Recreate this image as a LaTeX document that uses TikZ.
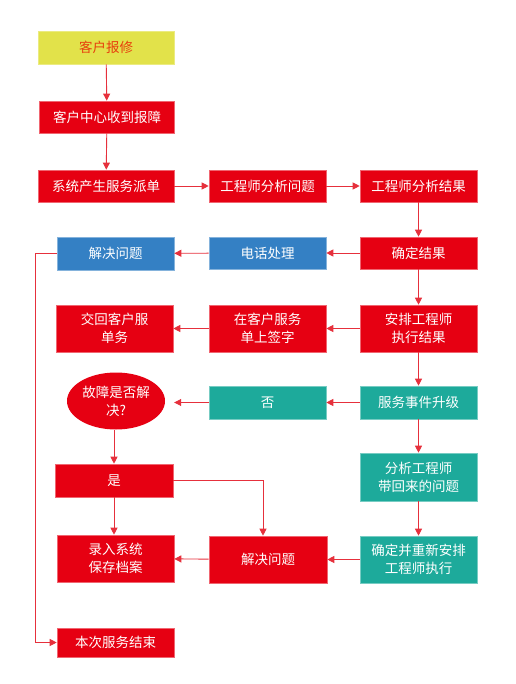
\documentclass[tikz,border=0pt]{standalone}
\usepackage{fontspec}
\newfontfamily\cjk{Noto Sans CJK SC}
\usetikzlibrary{arrows.meta,shapes.geometric}
\definecolor{boxred}{HTML}{E60012}
\definecolor{linered}{HTML}{E6303C}
\definecolor{teal2}{HTML}{1DAA9B}
\definecolor{blue2}{HTML}{3480C4}
\definecolor{yel}{HTML}{E2E24A}
\definecolor{yeltext}{HTML}{E8400D}
\tikzset{
  base/.style={minimum width=117pt, minimum height=32pt, inner sep=1pt, align=center,
     text=white, font=\cjk\fontsize{13.5}{18}\selectfont, line width=0.6pt},
  rbox/.style={base, fill=boxred, draw=boxred!60!white},
  tbox/.style={base, fill=teal2, draw=teal2!60!white},
  bbox/.style={base, fill=blue2, draw=blue2!60!white},
  ybox/.style={base, fill=yel, draw=yel!70!white, text=yeltext},
  tall/.style={minimum height=47pt},
  arr/.style={draw=linered, line width=0.9pt, -{Triangle[length=7pt,width=7pt]}},
}
\begin{document}
\begin{tikzpicture}[x=1pt,y=-1pt]
\useasboundingbox (0,0) rectangle (515,684);
\node[ybox, minimum width=136pt, minimum height=33pt] (a1) at (106,47.5) {客户报修};
\node[rbox, minimum width=135pt] (a2) at (107,117) {客户中心收到报障};
\node[rbox, minimum width=136pt] (a3) at (106,186) {系统产生服务派单};
\node[rbox] (b3) at (267.5,186) {工程师分析问题};
\node[rbox] (c3) at (418.5,186) {工程师分析结果};
\node[rbox] (c4) at (418.5,253) {确定结果};
\node[bbox] (b4) at (267.5,253) {电话处理};
\node[bbox, minimum height=33pt] (a4) at (115.5,253.5) {解决问题};
\node[rbox, tall] (c5) at (418.5,328.5) {安排工程师\\执行结果};
\node[rbox, tall] (b5) at (267.5,328.5) {在客户服务\\单上签字};
\node[rbox, tall] (a5) at (114.5,328.5) {交回客户服\\单务};
\node[ellipse, fill=boxred, minimum width=98pt, minimum height=57pt, inner sep=0pt,
      align=center, text=white, font=\cjk\fontsize{13.5}{18}\selectfont] (e) at (116,401) {故障是否解\\决?};
\node[tbox, minimum height=33pt] (b6) at (267.5,402.5) {否};
\node[tbox, minimum height=33pt] (c6) at (418.5,402.5) {服务事件升级};
\node[tbox, minimum height=48pt] (c7) at (418.5,477) {分析工程师\\带回来的问题};
\node[tbox, tall] (c8) at (418.5,559.5) {确定并重新安排\\工程师执行};
\node[rbox, tall, minimum width=118pt] (b8) at (268,559.5) {解决问题};
\node[rbox, minimum width=118pt, minimum height=33pt] (a7) at (114,480.5) {是};
\node[rbox, tall] (a8) at (115.5,558.5) {录入系统\\保存档案};
\node[rbox, minimum height=29pt] (a9) at (115.5,642.5) {本次服务结束};
\coordinate (lv) at (35,253.5);
\draw[arr] (a1) -- (a2);
\draw[arr] (a2) -- (a3);
\draw[arr] (a3) -- (b3);
\draw[arr] (b3) -- (c3);
\draw[arr] (c3) -- (c4);
\draw[arr] (c4) -- (b4);
\draw[arr] (b4) -- (a4);
\draw[arr] (c4) -- (c5);
\draw[arr] (c5) -- (b5);
\draw[arr] (b5) -- (a5);
\draw[arr] (c5) -- (c6);
\draw[arr] (c6) -- (b6);
\draw[arr, shorten >=9pt] (b6.west) -- (e.east |- b6.west);
\draw[arr] (c6) -- (c7);
\draw[arr] (c7) -- (c8);
\draw[arr] (c8) -- (b8);
\draw[arr] (b8) -- (a8);
\draw[arr] (a7.north |- e.south) -- (a7.north);
\draw[arr] (a7.south) -- (a7.south |- a8.north);
\draw[arr] (a7.east) -| ([xshift=-5pt]b8.north);
\draw[arr] (a4.west) -- (lv) |- (a9.west);
\end{tikzpicture}
\end{document}
